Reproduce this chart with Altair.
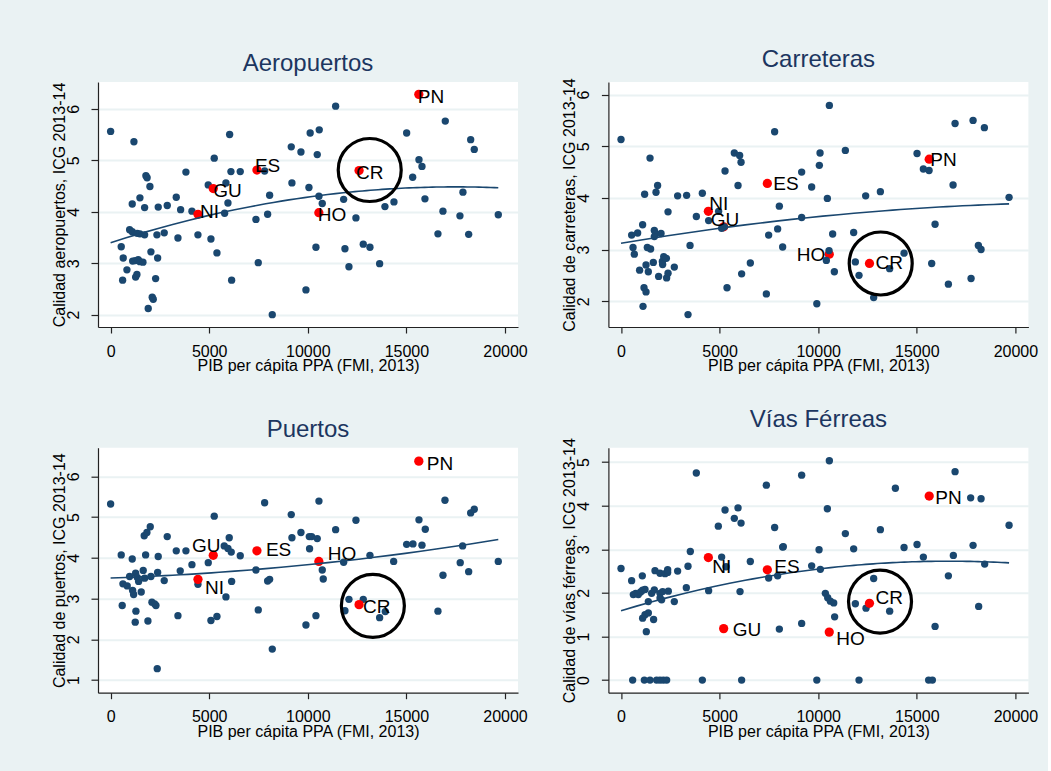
import altair as alt
import pandas as pd

FONT = "Liberation Sans"
NAVY = "#1A476F"
RED = "#FF0000"
BG = "#EAF2F3"
TITLE_COLOR = "#1C3660"

X_TITLE = "PIB per cápita PPA (FMI, 2013)"
X_TICKS = [0, 5000, 10000, 15000, 20000]
X_DOMAIN = [-640, 20660]

# Highlighted countries (same GDP per capita in every panel)
HL_CODES = ["NI", "GU", "ES", "HO", "CR", "PN"]
HL_X = [4430, 5205, 7420, 10560, 12600, 15630]

# --- Aeropuertos ---
AERO_X = [0, 1182, 1790, 1850, 1993, 1096, 1486, 1724, 2415, 2872, 3329, 3550, 3819, 4124,
          4951, 5255, 5782, 5848, 5950, 6036, 6102, 6574, 7811, 7370, 7487, 7963, 8064, 8198,
          9161, 9195, 9652, 10058, 10120, 9906, 964, 1096, 1349, 1486, 1724, 538, 639, 1116,
          1250, 1400, 1486, 1640, 827, 609, 1268, 1334, 2044, 2384, 2282, 2110, 2161, 1907,
          2348, 2719, 3414, 4428, 5088, 5392, 6137, 11412, 10580, 10479, 15013, 16972, 18260,
          18442, 15638, 15790, 15318, 10565, 10733, 11818, 12441, 13912, 14369, 15941, 17868,
          16854, 17716, 19660, 16600, 18158, 10413, 11884, 12813, 13152, 12087, 13643]
AERO_Y = [5.56, 5.36, 4.70, 4.66, 4.49, 4.15, 4.27, 4.08, 4.09, 4.12, 4.28, 4.04, 4.77, 4.01,
          4.52, 5.04, 3.97, 4.56, 4.17, 5.50, 4.78, 4.78, 4.79, 3.85, 3.01, 3.95, 4.32, 2.00,
          5.26, 4.56, 5.16, 4.47, 5.53, 2.48, 3.65, 3.61, 3.58, 3.57, 3.55, 3.32, 3.10, 3.04,
          3.05, 3.07, 3.03, 3.02, 2.87, 2.67, 2.73, 2.78, 3.22, 3.10, 2.70, 2.34, 2.30, 2.12,
          3.55, 3.59, 3.49, 3.55, 3.47, 3.20, 2.67, 6.05, 5.59, 5.11, 5.53, 5.76, 5.40,
          5.21, 5.01, 4.88, 4.67, 4.30, 4.16, 4.24, 3.88, 4.10, 4.19, 4.25, 4.38,
          4.01, 3.92, 3.94, 3.57, 3.56, 3.31, 3.28, 3.37, 3.31, 2.93, 2.99]
AERO_HL_Y = [3.95, 4.45, 4.81, 3.98, 4.80, 6.28]

# --- Carreteras ---
CARR_X = [0, 1471, 1856, 1775, 1197, 2871, 3327, 4124, 2384, 3820, 4443, 4950, 5103, 5240,
          5275, 5746, 6015, 6087, 5934, 7791, 8029, 7943, 7487, 8197, 9161, 9161, 9668, 10094,
          10058, 6558, 6117, 5376, 7370, 9930, 3398, 3500, 1116, 538, 842, 1096, 1689, 1755,
          2029, 1690, 609, 675, 1334, 1501, 943, 1268, 1385, 1638, 2096, 2164, 2110, 2300,
          1907, 2313, 2384, 2703, 1166, 1268, 10566, 11377, 10464, 12407, 13153, 15013, 15333,
          15623, 16941, 17854, 18427, 16840, 19680, 15927, 18123, 18259, 15755, 16602, 17752,
          10733, 11798, 10550, 10413, 10819, 11884, 12070, 13624, 14354, 12813]
CARR_Y = [5.13, 4.77, 4.24, 4.11, 4.07, 4.04, 4.05, 4.09, 3.73, 3.64, 3.56, 3.74, 3.41, 3.44,
          4.52, 4.87, 4.82, 4.69, 4.24, 5.28, 3.84, 3.40, 3.28, 3.05, 4.50, 3.62, 4.21, 4.87,
          4.63, 2.74, 2.53, 2.26, 2.14, 1.95, 1.74, 3.08, 1.90, 3.28, 3.32, 3.48, 3.37, 3.30,
          3.31, 3.25, 3.04, 2.91, 3.04, 3.01, 2.60, 2.70, 2.57, 2.75, 2.77, 2.86, 2.71, 2.83,
          2.48, 2.45, 2.54, 2.66, 2.26, 2.18, 5.79, 4.92, 3.99, 4.04, 4.12, 4.86, 4.56,
          4.53, 5.44, 5.50, 5.36, 4.25, 4.01, 3.49, 3.08, 3.00, 2.73, 2.33, 2.44,
          3.30, 3.33, 2.98, 2.79, 2.57, 2.76, 2.50, 2.63, 2.93, 2.07]
CARR_HL_Y = [3.74, 3.44, 4.28, 2.91, 2.73, 4.75]

# --- Puertos ---
PUER_X = [0, 538, 1096, 588, 1248, 1283, 1704, 1841, 2010, 1775, 2414, 2871, 3329, 3819,
          4124, 4951, 5255, 6015, 5762, 5950, 6117, 6574, 7811, 7370, 7963, 8064, 7487, 8198,
          9161, 9195, 9652, 10076, 10194, 10479, 10090, 9906, 4428, 3530, 3414, 5088, 5392,
          5848, 6137, 2364, 1892, 2095, 2231, 2298, 2719, 2384, 624, 842, 964, 1116, 1166,
          1268, 1349, 1420, 1552, 1653, 1724, 2044, 10565, 12441, 11412, 10733, 10784, 11818,
          13152, 14354, 15013, 15333, 15790, 15638, 15958, 16956, 18260, 18442, 17852, 17730,
          18158, 19660, 16855, 16600, 10413, 11884, 12087, 12813, 13929, 13643]
PUER_Y = [5.32, 4.07, 3.97, 2.83, 2.42, 2.69, 4.54, 4.62, 4.76, 4.07, 4.03, 4.52, 4.17, 4.17,
          3.83, 3.88, 5.02, 4.49, 4.29, 4.23, 4.14, 4.05, 5.35, 3.70, 3.43, 3.47, 2.72, 1.76,
          5.06, 4.49, 4.62, 4.52, 4.52, 4.47, 4.22, 2.35, 3.35, 3.68, 2.58, 2.46, 2.56,
          3.04, 3.42, 1.28, 2.45, 2.91, 2.87, 2.83, 3.44, 3.64, 3.36, 3.31, 3.54, 3.20, 3.10,
          3.62, 3.52, 3.42, 3.16, 3.69, 3.50, 3.54, 5.39, 4.92, 4.69, 3.70, 3.48, 3.89,
          4.06, 3.91, 4.33, 4.34, 4.31, 4.93, 4.70, 5.41, 5.10, 5.19, 4.29, 3.88,
          3.66, 3.91, 3.57, 2.69, 2.58, 2.70, 2.98, 2.98, 2.68, 2.53]
PUER_HL_Y = [3.47, 4.06, 4.17, 3.91, 2.85, 6.37]

# --- Vías Férreas ---
VIAS_X = [0, 538, 1080, 624, 743, 877, 994, 1096, 1217, 1724, 1978, 2232, 2365, 2365, 1552,
          1689, 1978, 2110, 2399, 1385, 1978, 2059, 2703, 1096, 1217, 1385, 1653, 1283, 2871,
          3312, 3398, 3515, 3819, 4443, 4935, 5103, 5275, 5326, 5746, 5934, 6087, 6036, 6558,
          7370, 7487, 7943, 7791, 8197, 8230, 8029, 9161, 9161, 9668, 10043, 10109,
          590, 1183, 1471, 1806, 1978, 2146, 2315, 4124, 6117, 9930,
          10565, 10464, 11377, 11798, 13153, 13914, 14354, 15013, 15333, 16854, 16941, 17732,
          18259, 17854, 18443, 19680, 16602, 18138, 15927, 10363, 10482, 10617, 10786, 10833,
          11884, 12425, 12813, 13624, 12070, 15600, 15790]
VIAS_Y = [2.56, 2.28, 2.39, 1.96, 1.99, 1.96, 2.02, 2.06, 2.08, 2.51, 2.45, 2.44, 2.47, 2.53, 1.99,
          2.07, 1.99, 2.03, 2.04, 1.80, 1.88, 1.84, 1.80, 1.42, 1.50, 1.54, 1.39, 1.11, 2.50,
          2.12, 2.61, 2.95, 4.75, 2.05, 3.53, 2.82, 3.90, 2.60, 3.71, 3.95, 3.60, 2.03, 2.72,
          4.47, 2.34, 2.39, 3.50, 3.05, 3.06, 1.17, 4.70, 1.30, 2.62, 2.99, 2.54,
          0, 0, 0, 0, 0, 0, 0, 0, 0, 0,
          5.03, 3.93, 3.36, 3.01, 3.45, 4.40, 3.04, 3.11, 2.82, 2.86, 4.78, 4.18,
          4.16, 3.09, 2.66, 3.55, 2.39, 1.69, 1.23, 1.99, 1.89, 1.81, 1.77, 1.45,
          1.75, 1.65, 2.33, 1.58, 0, 0, 0]
VIAS_HL_Y = [2.81, 1.18, 2.53, 1.10, 1.76, 4.22]

# Ring drawn around Costa Rica in each panel
CIRCLE_X = [13140, 13170, 13300, 13135]
CIRCLE_Y = [4.81, 2.73, 2.82, 1.80]

PANELS = [
    dict(title="Aeropuertos", ytitle="Calidad aeropuertos, ICG 2013-14",
         xs=AERO_X, ys=AERO_Y, hl=AERO_HL_Y, dom=[1.76, 6.52], ticks=[2, 3, 4, 5, 6],
         red_on_top=True,
         labels={"PN": ("left", -1, 3), "CR": ("left", -3, 2), "ES": ("left", -2, -4),
                 "GU": ("left", 0, 2), "NI": ("left", 2, -2), "HO": ("left", -1, 2)}),
    dict(title="Carreteras", ytitle="Calidad de carreteras, ICG 2013-14",
         xs=CARR_X, ys=CARR_Y, hl=CARR_HL_Y, dom=[1.5, 6.244], ticks=[2, 3, 4, 5, 6],
         red_on_top=False,
         labels={"PN": ("left", 1, 1), "CR": ("left", 6, 0), "ES": ("left", 6, 1),
                 "GU": ("left", -13, -7), "NI": ("left", 1, -7), "HO": ("right", -4, 1)}),
    dict(title="Puertos", ytitle="Calidad de puertos, ICG 2013-14",
         xs=PUER_X, ys=PUER_Y, hl=PUER_HL_Y, dom=[0.69, 6.70], ticks=[1, 2, 3, 4, 5, 6],
         red_on_top=True,
         labels={"PN": ("left", 8, 3), "CR": ("left", 4, 2), "ES": ("left", 9, -1),
                 "GU": ("center", -7, -9), "NI": ("left", 7, 9), "HO": ("left", 9, -7)}),
    dict(title="Vías Férreas", ytitle="Calidad de vías férreas, ICG 2013-14",
         xs=VIAS_X, ys=VIAS_Y, hl=VIAS_HL_Y, dom=[-0.29, 5.33], ticks=[0, 1, 2, 3, 4, 5],
         red_on_top=True,
         labels={"PN": ("left", 6, 2), "CR": ("left", 6, -5), "ES": ("left", 7, -3),
                 "GU": ("left", 9, 1), "NI": ("left", 4, 9), "HO": ("left", 7, 7)}),
]

W, H = 420, 245


def make_panel(i, p):
    pts = pd.DataFrame({"x": p["xs"], "y": p["ys"]})
    hl = pd.DataFrame({"x": HL_X, "y": p["hl"], "code": HL_CODES})
    every = pd.concat([pts, hl[["x", "y"]]], ignore_index=True)
    ring = pd.DataFrame({"x": [CIRCLE_X[i]], "y": [CIRCLE_Y[i]]})

    x = alt.X("x:Q", scale=alt.Scale(domain=X_DOMAIN, nice=False, zero=False),
              axis=alt.Axis(values=X_TICKS, title=X_TITLE, grid=False, format="d",
                            tickSize=6, labelPadding=10, labelBaseline="top",
                            titleX=W / 2, titleY=38.5, titleBaseline="middle",
                            titleAlign="center"))
    y = alt.Y("y:Q", scale=alt.Scale(domain=p["dom"], nice=False, zero=False),
              axis=alt.Axis(values=p["ticks"], title=p["ytitle"], grid=True,
                            gridColor=BG, gridWidth=2, tickSize=7, labelAngle=270,
                            labelAlign="center", labelBaseline="middle",
                            labelPadding=18, titleX=-38.5, titleY=H / 2,
                            titleAngle=270, titleBaseline="middle", titleAlign="center"))

    navy = alt.Chart(pts).mark_circle(size=54, color=NAVY, opacity=1).encode(x=x, y=y)
    red = alt.Chart(hl).mark_circle(size=86, color=RED, opacity=1).encode(x=x, y=y)
    fit = (alt.Chart(every)
           .transform_regression("x", "y", method="poly", order=2)
           .mark_line(color=NAVY, strokeWidth=1.6)
           .encode(x=x, y=y))
    texts = []
    for code, (align, dx, dy) in p["labels"].items():
        texts.append(
            alt.Chart(hl).transform_filter(alt.datum.code == code)
            .mark_text(align=align, baseline="middle", dx=dx, dy=dy,
                       font=FONT, fontSize=19, color="black")
            .encode(x=x, y=y, text="code:N"))
    circle = (alt.Chart(ring)
              .mark_point(shape="circle", size=3969, filled=False, stroke="black",
                          strokeWidth=3.2, opacity=1)
              .encode(x=x, y=y))

    dots = [navy, red] if p["red_on_top"] else [red, navy]
    layers = dots + [fit] + texts + [circle]
    return alt.layer(*layers).properties(
        width=W, height=H,
        title=alt.TitleParams(p["title"], font=FONT, fontSize=24, fontWeight="normal",
                              color=TITLE_COLOR, frame="group", anchor="middle",
                              baseline="alphabetic", offset=-13),
    )


charts = [make_panel(i, p) for i, p in enumerate(PANELS)]
# 2x2 grid; "flush" bounds make the spacing the gap between plot areas
chart = (alt.concat(*charts, columns=2, bounds="flush",
                    spacing=alt.RowColnumber(row=120.7, column=90.4))
         .properties(background=BG, padding={"left": 51, "top": 47, "right": 10, "bottom": 40})
         .configure_view(stroke=None, fill="white")
         .configure_axis(domainColor="#222222", domainWidth=1.2, tickColor="#222222",
                         tickWidth=1.2, labelFont=FONT, labelFontSize=16, labelColor="black",
                         titleFont=FONT, titleFontSize=16, titleFontWeight="normal",
                         titleColor="black"))

chart.save("out.html", embed_options={"renderer": "svg", "actions": False})
